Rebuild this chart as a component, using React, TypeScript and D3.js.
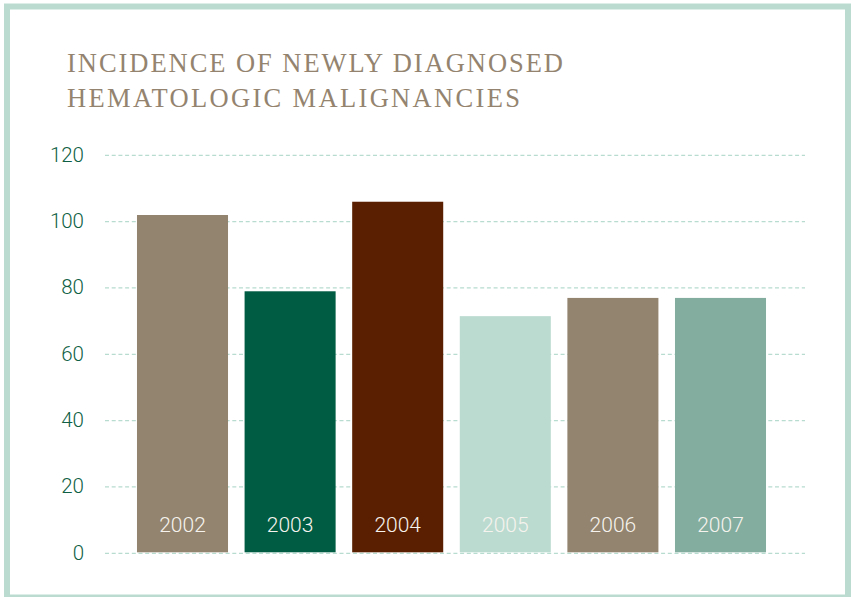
import React from "react";
import * as d3 from "d3";

const years = ["2002", "2003", "2004", "2005", "2006", "2007"];
const values = [102, 79, 106, 71.5, 77, 77];
const barColors = ["#93846f", "#005c42", "#5a1f00", "#bbdbd0", "#93846f", "#82ad9f"];
const yTicks = [0, 20, 40, 60, 80, 100, 120];
const titleLines = ["INCIDENCE OF NEWLY DIAGNOSED", "HEMATOLOGIC MALIGNANCIES"];

const W = 854;
const H = 597;

export default function App() {
  const x = d3
    .scaleBand<string>()
    .domain(years)
    .range([128.7, 774.3])
    .paddingInner(0.154)
    .paddingOuter(0.077);
  const y = d3.scaleLinear().domain([0, 120]).range([553.3, 155.3]);

  return (
    <svg
      width={W}
      height={H}
      style={{ position: "absolute", left: 0, top: 0, background: "#fff" }}
    >
      <rect x={7} y={6.5} width={841} height={591} fill="#fff" stroke="#bbdbd0" strokeWidth={6} />
      {titleLines.map((t, i) => (
        <text
          key={t}
          x={67}
          y={72 + i * 35.3}
          fontFamily="'Liberation Serif', 'DejaVu Serif', serif"
          fontSize={26.5}
          fill="#94846f"
          textLength={i === 0 ? 496 : 453}
          lengthAdjust="spacing"
        >
          {t}
        </text>
      ))}
      {yTicks.map((t) => (
        <g key={t}>
          <line
            x1={105}
            x2={805}
            y1={y(t)}
            y2={y(t)}
            stroke="#b8dccf"
            strokeWidth={1.2}
            strokeDasharray="4,2.7"
          />
          <text
            x={84}
            y={y(t) + 6.5}
            textAnchor="end"
            fontFamily="Roboto, 'Liberation Sans', sans-serif"
            fontWeight={300}
            fontSize={20.5}
            fill="#0f5f45"
          >
            {t}
          </text>
        </g>
      ))}
      {years.map((yr, i) => (
        <g key={yr}>
          <rect
            x={x(yr)}
            y={y(values[i])}
            width={x.bandwidth()}
            height={552.3 - y(values[i])}
            fill={barColors[i]}
          />
          <text
            x={(x(yr) as number) + x.bandwidth() / 2}
            y={531.5}
            textAnchor="middle"
            fontFamily="Roboto, 'Liberation Sans', sans-serif"
            fontWeight={300}
            fontSize={21}
            fill="#f6f3ee"
          >
            {yr}
          </text>
        </g>
      ))}
    </svg>
  );
}
